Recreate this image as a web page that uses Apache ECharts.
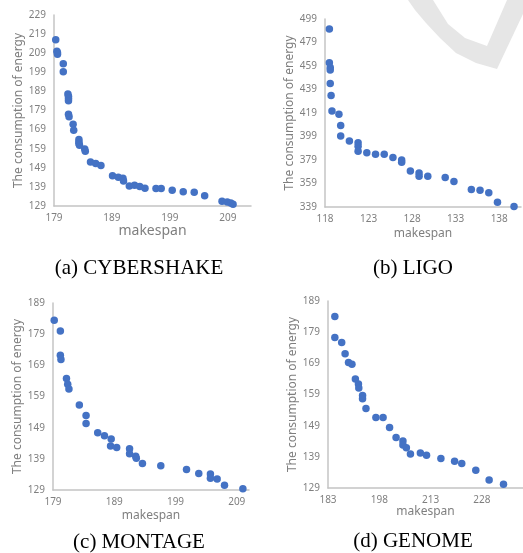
<!DOCTYPE html>
<html>
<head>
<meta charset="utf-8">
<script src="https://cdn.jsdelivr.net/npm/echarts@6/dist/echarts.min.js"></script>
<style>
  html, body { margin: 0; padding: 0; background: #ffffff; }
  #chart { width: 523px; height: 553px; }
</style>
</head>
<body>
<div id="chart"></div>
<script>
// Panel titles
const panelTitles = ['(a) CYBERSHAKE', '(b) LIGO', '(c) MONTAGE', '(d) GENOME'];

// (a) CYBERSHAKE
const cyberMakespan = [179.3, 179.5, 179.6, 179.6, 180.6, 180.6, 181.4, 181.5, 181.5, 181.5, 181.5, 181.6, 182.3, 182.4, 183.3, 183.3, 183.3, 183.4, 184.3, 184.4, 185.3, 186.2, 187.1, 189.1, 190.1, 190.9, 191.0, 192.0, 192.9, 193.8, 194.7, 196.6, 197.5, 199.4, 201.3, 203.2, 205.0, 208.0, 208.9, 209.5, 209.9];
const cyberEnergy   = [216.1, 210.0, 209.2, 208.4, 203.5, 199.3, 187.6, 186.5, 185.3, 184.1, 177.1, 175.7, 171.8, 168.7, 163.8, 162.5, 161.7, 160.8, 158.9, 157.6, 152.1, 151.2, 150.2, 144.9, 144.1, 143.5, 142.1, 139.5, 139.9, 139.2, 138.3, 138.1, 138.1, 137.2, 136.5, 136.2, 134.4, 131.5, 131.1, 130.6, 129.9];
const cyberXTicks = [179, 189, 199, 209];
const cyberYTicks = [129, 139, 149, 159, 169, 179, 189, 199, 209, 219, 229];

// (b) LIGO
const ligoMakespan = [118.5, 118.5, 118.6, 118.6, 118.6, 118.7, 118.8, 119.6, 119.8, 119.8, 120.8, 121.8, 121.8, 121.8, 122.8, 123.8, 124.8, 125.8, 126.8, 126.8, 127.8, 128.8, 128.8, 129.8, 131.8, 132.8, 134.8, 135.8, 136.8, 137.8, 139.7];
const ligoEnergy   = [490.5, 461.7, 457.8, 455.5, 444.2, 434.0, 420.8, 417.9, 408.3, 399.4, 395.2, 393.6, 390.8, 386.5, 385.2, 383.9, 383.8, 381.2, 379.1, 377.0, 369.6, 367.9, 365.1, 365.2, 364.1, 360.8, 354.0, 353.2, 351.2, 343.1, 339.5];
const ligoXTicks = [118, 123, 128, 133, 138];
const ligoYTicks = [339, 359, 379, 399, 419, 439, 459, 479, 499];

// (c) MONTAGE
const montageMakespan = [179.2, 180.2, 180.2, 180.3, 181.2, 181.4, 181.6, 183.3, 184.4, 184.4, 186.3, 187.4, 188.5, 188.4, 189.4, 191.5, 191.5, 192.5, 192.6, 193.6, 196.6, 200.8, 202.8, 204.7, 204.7, 205.8, 207.0, 210.0];
const montageEnergy   = [183.5, 180.0, 172.2, 170.9, 164.8, 162.9, 161.4, 156.3, 152.9, 150.3, 147.4, 146.4, 145.4, 143.1, 142.6, 142.2, 140.6, 139.8, 139.2, 137.5, 136.8, 135.6, 134.3, 134.1, 132.8, 132.5, 130.5, 129.4];
const montageXTicks = [179, 189, 199, 209];
const montageYTicks = [129, 139, 149, 159, 169, 179, 189];

// (d) GENOME
const genomeMakespan = [185.0, 185.0, 187.0, 188.0, 189.0, 190.0, 191.0, 191.9, 192.0, 193.1, 193.1, 194.1, 197.0, 199.1, 201.0, 202.9, 204.9, 204.9, 205.9, 207.1, 210.0, 211.8, 216.0, 220.0, 222.1, 226.2, 230.1, 234.3];
const genomeEnergy   = [184.0, 177.3, 175.7, 172.1, 169.3, 168.7, 164.0, 162.4, 161.1, 158.7, 157.6, 154.5, 151.6, 151.6, 148.4, 145.2, 144.1, 142.8, 141.9, 139.9, 140.2, 139.5, 138.5, 137.6, 136.9, 134.7, 131.6, 130.2];
const genomeXTicks = [183, 198, 213, 228];
const genomeYTicks = [129, 139, 149, 159, 169, 179, 189];

const zip = (xs, ys) => xs.map((x, i) => [x, ys[i]]);

const DOT = '#4472C4';
const AXIS_GRAY = '#c4c4c4';
const TEXT_GRAY = '#7f7f7f';
const SANS = 'Noto Sans';
const SERIF = 'Liberation Serif';

// layout of the four plots: grid box, axis ranges, name gaps
const panels = [
  { grid: { left: 54, top: 15, width: 197, height: 191 }, xMin: 179, xMax: 213, yMin: 129, yMax: 229,
    xTicks: cyberXTicks, yTicks: cyberYTicks, data: zip(cyberMakespan, cyberEnergy), xNameSize: 14, xGap: 18 },
  { grid: { left: 325, top: 19, width: 196, height: 188 }, xMin: 118, xMax: 140.5, yMin: 339, yMax: 499,
    xTicks: ligoXTicks, yTicks: ligoYTicks, data: zip(ligoMakespan, ligoEnergy), xNameSize: 12, xGap: 21 },
  { grid: { left: 53, top: 303, width: 196, height: 187 }, xMin: 179, xMax: 211, yMin: 129, yMax: 189,
    xTicks: montageXTicks, yTicks: montageYTicks, data: zip(montageMakespan, montageEnergy), xNameSize: 12, xGap: 20 },
  { grid: { left: 328, top: 301, width: 198, height: 187 }, xMin: 183, xMax: 240, yMin: 129, yMax: 189,
    xTicks: genomeXTicks, yTicks: genomeYTicks, data: zip(genomeMakespan, genomeEnergy), xNameSize: 12, xGap: 18 }
];

const titlePos = [[139, 268], [413, 268], [139, 542], [413, 541]];

// outline of the pale grey stroke behind the upper right plot
const backdropOutline = [
  [408, 0], [415, 10], [426, 23], [440, 38], [456, 53], [476, 63], [497, 69],
  [523, 14], [523, 0], [507, 0], [487, 46], [465, 38], [448, 24], [433, 0]
];

const chart = echarts.init(document.getElementById('chart'), null, { renderer: 'canvas' });

const axisCommon = {
  type: 'value',
  axisTick: { show: false },
  splitLine: { show: false },
  axisLine: { show: true, lineStyle: { color: AXIS_GRAY, width: 1.5 } }
};

const option = {
  backgroundColor: '#ffffff',
  animation: false,
  grid: panels.map(p => Object.assign({ containLabel: false }, p.grid)),
  xAxis: panels.map((p, i) => Object.assign({}, axisCommon, {
    gridIndex: i, min: p.xMin, max: p.xMax,
    name: 'makespan', nameLocation: 'middle', nameGap: p.xGap,
    nameTextStyle: { color: TEXT_GRAY, fontFamily: SANS, fontSize: p.xNameSize },
    axisLabel: { customValues: p.xTicks, color: TEXT_GRAY, fontFamily: SANS, fontSize: 10, margin: 7 }
  })),
  yAxis: panels.map((p, i) => Object.assign({}, axisCommon, {
    gridIndex: i, min: p.yMin, max: p.yMax,
    name: 'The consumption of energy', nameLocation: 'middle', nameGap: 29,
    nameTextStyle: { color: TEXT_GRAY, fontFamily: SANS, fontSize: 12 },
    axisLabel: { customValues: p.yTicks, color: TEXT_GRAY, fontFamily: SANS, fontSize: 10, margin: 8 }
  })),
  series: panels.map((p, i) => ({
    type: 'scatter', xAxisIndex: i, yAxisIndex: i,
    data: p.data, symbol: 'circle', symbolSize: 7.5,
    itemStyle: { color: DOT, opacity: 1 }
  })),
  graphic: [
    {
      type: 'polygon', z: -10, silent: true,
      shape: { points: backdropOutline },
      style: { fill: '#e6e6e6' }
    }
  ].concat(panelTitles.map((t, i) => ({
    type: 'text', x: titlePos[i][0], y: titlePos[i][1],
    style: { text: t, fill: '#000000', font: '21px "' + SERIF + '"', textAlign: 'center', textVerticalAlign: 'middle' }
  })))
};

chart.setOption(option);
</script>
</body>
</html>
